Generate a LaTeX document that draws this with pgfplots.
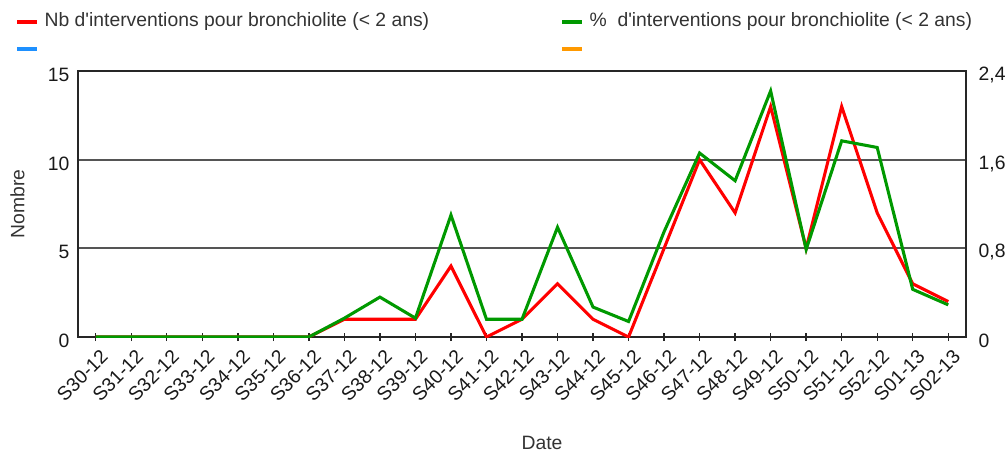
\documentclass[border=0pt]{standalone}
\usepackage{pgfplots}
\usepackage{pgfplotstable}
\pgfplotsset{compat=1.18}
\usepackage{fontspec}
\setmainfont{Liberation Sans}

\definecolor{nbred}{RGB}{255,0,0}
\definecolor{pctgreen}{RGB}{0,153,0}
\definecolor{legblue}{RGB}{30,144,255}
\definecolor{legorange}{RGB}{255,153,0}
\definecolor{txt}{RGB}{51,51,51}
\definecolor{gridc}{RGB}{85,85,85}

% idx = semaine (S30-12 ... S02-13), nb = nombre, pct = pourcentage
\pgfplotstableread{
idx nb pct
0  0  0
1  0  0
2  0  0
3  0  0
4  0  0
5  0  0
6  0  0
7  1  0.17
8  1  0.36
9  1  0.17
10 4  1.10
11 0  0.16
12 1  0.16
13 3  0.99
14 1  0.27
15 0  0.14
16 5  0.95
17 10 1.66
18 7  1.41
19 13 2.22
20 5  0.79
21 13 1.77
22 7  1.71
23 3  0.43
24 2  0.29
}\semaines

\pgfplotsset{
  commun/.style={
    scale only axis, width=666pt, height=199.5pt,
    at={(58.5pt,88.5pt)}, anchor=south west,
    xmin=-0.5, xmax=24.5,
    axis line style={black!85, line width=1.2pt},
    tick label style={font=\fontsize{14.5}{17}\selectfont, text=black!90},
    /pgf/number format/assume math mode=true,
  },
}

\begin{document}
\begin{tikzpicture}
\path[use as bounding box] (0,0) rectangle (756pt,341.25pt);

\begin{axis}[commun,
  ymin=0, ymax=15, ytick={0,5,10,15},
  ymajorgrids, grid style={gridc, line width=1.3pt},
  ytick style={draw=none},
  yticklabel style={yshift=-3pt},
  xtick={0,...,24}, xtick pos=bottom,
  xticklabels={S30-12,S31-12,S32-12,S33-12,S34-12,S35-12,S36-12,S37-12,S38-12,S39-12,S40-12,S41-12,S42-12,S43-12,S44-12,S45-12,S46-12,S47-12,S48-12,S49-12,S50-12,S51-12,S52-12,S01-13,S02-13},
  xticklabel style={rotate=45, anchor=north east, xshift=1.5pt, yshift=-2.5pt},
  x tick style={black!85, line width=1pt}, tick align=center, major tick length=6pt,
  xlabel={Date}, xlabel style={font=\fontsize{14.5}{17}\selectfont, text=txt, xshift=15pt, yshift=-17pt},
  ylabel={Nombre}, ylabel style={font=\fontsize{14.5}{17}\selectfont, text=txt, yshift=10.5pt},
  legend columns=2,
  legend cell align=left,
  legend image code/.code={\draw[#1, line width=3pt] (0pt,0pt) -- (15pt,0pt);},
  legend style={draw=none, fill=none, at={(axis description cs:0,1)}, anchor=north west,
    xshift=-50.25pt, yshift=45.75pt,
    font=\fontsize{14.5}{17}\selectfont, text=txt,
    nodes={inner sep=0pt, text height=10.5pt, text depth=3pt},
    row sep=6.5pt,
    /tikz/every odd column/.append style={column sep=4pt}},
]
\addplot[nbred, line width=2.3pt] table[x=idx, y=nb] {\semaines};
\addlegendentry{\makebox[386.75pt][l]{Nb d\textquotesingle interventions pour bronchiolite (< 2 ans)}}
\addlegendimage{pctgreen}
\addlegendentry{\%\ \ d\textquotesingle interventions pour bronchiolite (< 2 ans)}
\addlegendimage{legblue}
\addlegendentry{}
\addlegendimage{legorange}
\addlegendentry{}
\end{axis}

\begin{axis}[commun,
  ymin=0, ymax=2.4, ytick={0,0.8,1.6,2.4},
  axis y line*=right, hide x axis,
  ytick style={draw=none},
  yticklabel style={xshift=6pt, yshift=-3pt, /pgf/number format/.cd, fixed, precision=1, use comma},
]
\addplot[pctgreen, line width=2.3pt] table[x=idx, y=pct] {\semaines};
\end{axis}
\end{tikzpicture}
\end{document}
